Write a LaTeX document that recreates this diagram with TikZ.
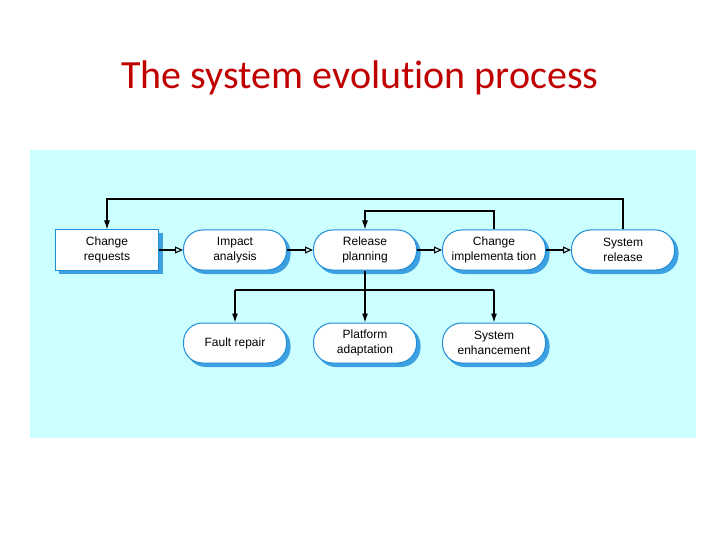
\documentclass[tikz,border=0pt]{standalone}
\usepackage{fontspec}
\setmainfont{Liberation Sans}
\newfontfamily\titlefont[Ligatures=NoCommon]{Carlito}
\usetikzlibrary{arrows.meta,shadows,shapes.misc}
\definecolor{panel}{RGB}{204,255,255}
\definecolor{titlered}{RGB}{192,0,0}
\definecolor{boxblue}{RGB}{30,140,215}
\definecolor{shadowblue}{RGB}{60,160,225}
\tikzset{
  base/.style={draw=boxblue, line width=1pt, fill=white, minimum width=103pt, minimum height=40pt,
    align=center, font=\fontsize{12}{15}\selectfont, inner sep=1pt,
    copy shadow={shadow xshift=3.5pt, shadow yshift=-3.5pt, fill=shadowblue, draw=shadowblue}},
  rbox/.style={base, rounded corners=19pt},
  sbox/.style={base},
  flow/.style={line width=1.1pt, -{Triangle[open,length=8pt,width=7pt]}},
  ctrl/.style={line width=1.1pt, -{Latex[length=9pt,width=6pt]}},
  plain/.style={line width=1.1pt}
}
\begin{document}
\begin{tikzpicture}[x=1pt,y=-1pt]
\useasboundingbox (0,0) rectangle (720,540);
\fill[white] (0,0) rectangle (720,540);
\fill[panel] (30,150) rectangle (696,438);
\node[font=\titlefont\fontsize{40}{46}\selectfont, text=titlered] (title) at (360,78) {The system evolution process};

\node[sbox] (cr) at (107,250) {Change\\requests};
\node[rbox] (ia) at (235,250) {Impact\\analysis};
\node[rbox] (rp) at (365,250) {Release\\planning};
\node[rbox] (ci) at (494,250) {Change\\implementa tion};
\node[rbox] (sr) at (623,250) {System\\release};

\node[rbox] (fr) at (235,343) {Fault repair};
\node[rbox] (pa) at (365,343) {Platform\\adaptation};
\node[rbox] (se) at (494,343) {System\\enhancement};

\draw[flow] (cr) -- (ia);
\draw[flow] (ia) -- (rp);
\draw[flow] (rp) -- (ci);
\draw[flow] (ci) -- (sr);

\coordinate (t1) at (623,199);
\coordinate (t2) at (107,199);
\draw[ctrl] (sr.north) -- (t1) -- (t2) -- (cr.north);
\coordinate (u1) at (494,211);
\coordinate (u2) at (365,211);
\draw[ctrl] (ci.north) -- (u1) -- (u2) -- (rp.north);

\coordinate (bl) at (235,290);
\coordinate (br) at (494,290);
\draw[ctrl] (rp.south) -- (pa.north);
\draw[plain] (bl) -- (br);
\draw[ctrl] (bl) -- (fr.north);
\draw[ctrl] (br) -- (se.north);
\end{tikzpicture}
\end{document}
